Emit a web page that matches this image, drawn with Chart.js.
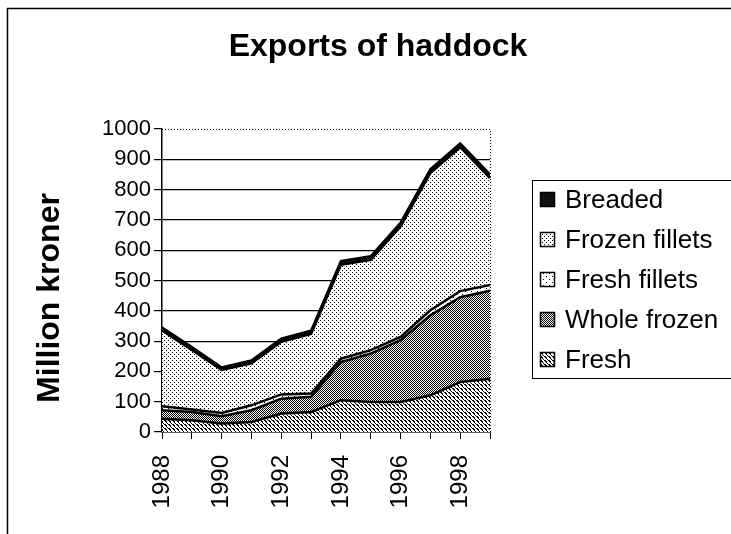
<!DOCTYPE html>
<html>
<head>
<meta charset="utf-8">
<title>Exports of haddock</title>
<script src="https://cdn.jsdelivr.net/npm/chart.js@4/dist/chart.umd.min.js"></script>
<style>
  body { margin: 0; background: #fff; }
  canvas { display: block; }
</style>
</head>
<body>
<canvas id="myChart" width="731" height="534"></canvas>
<script>
// Years on the x axis
const years = ['1988', '1989', '1990', '1991', '1992', '1993', '1994', '1995', '1996', '1997', '1998', '1999'];

// Million kroner per product (bottom to top)
const fresh = [44, 39, 28, 33, 61, 66, 105, 99, 99, 121, 165, 176];
const wholeFrozen = [28, 27, 24, 39, 49, 50, 126, 160, 204, 264, 280, 290];
const freshFillets = [13, 8, 11, 16, 14, 11, 11, 11, 11, 17, 20, 19];
const frozenFillets = [250, 197, 142, 139, 174, 197, 310, 298, 364, 453, 475, 353];
const breaded = [10, 9, 8, 9, 10, 10, 12, 12, 12, 12, 12, 12];

const yMin = 0;
const yMax = 1000;
const yStep = 100;

const chartTitle = 'Exports of haddock';
const yTitle = 'Million kroner';

const ctx = document.querySelector('#myChart');
const font = '"Liberation Sans", Arial, Helvetica, sans-serif';

// Small black/white patterns, like the old printed chart
function makePattern(size, pixels) {
  const c = document.createElement('canvas');
  c.width = size;
  c.height = size;
  const g = c.getContext('2d');
  g.fillStyle = '#fff';
  g.fillRect(0, 0, size, size);
  g.fillStyle = '#000';
  pixels.forEach(p => g.fillRect(p[0], p[1], 1, 1));
  return ctx.getContext('2d').createPattern(c, 'repeat');
}

const hatchPattern = makePattern(4, [[0, 0], [1, 1], [2, 2], [3, 3], [1, 0], [2, 1]]);
const checkPattern = makePattern(2, [[0, 0], [1, 1]]);
const sparsePattern = makePattern(6, [[0, 0], [3, 3]]);
const dotPattern = makePattern(4, [[0, 0], [2, 2]]);

// Frame, titles and legend drawn round the chart
const framePlugin = {
  id: 'frame',
  beforeDraw(chart) {
    const g = chart.ctx;
    g.save();
    g.fillStyle = '#fff';
    g.fillRect(0, 0, chart.width, chart.height);
    g.strokeStyle = '#000';
    g.lineWidth = 1.5;
    g.beginPath();
    g.moveTo(7.5, chart.height);
    g.lineTo(7.5, 8.5);
    g.lineTo(chart.width, 8.5);
    g.stroke();

    // title centred over the whole picture
    g.fillStyle = '#000';
    g.font = 'bold 32px ' + font;
    g.textAlign = 'center';
    g.textBaseline = 'middle';
    g.fillText(chartTitle, 378, 47);

    // y axis title, a little below the middle of the plot
    g.translate(50, 298);
    g.rotate(-Math.PI / 2);
    g.fillText(yTitle, 0, 0);
    g.restore();
  },
  afterDraw(chart) {
    const g = chart.ctx;
    const a = chart.chartArea;
    g.save();
    // dotted plot border, top and right
    g.strokeStyle = '#000';
    g.lineWidth = 1;
    g.setLineDash([1, 2]);
    g.beginPath();
    g.moveTo(a.left, a.top + 0.5);
    g.lineTo(a.right + 0.5, a.top + 0.5);
    g.lineTo(a.right + 0.5, a.bottom);
    g.stroke();
    g.setLineDash([]);

    // legend box
    g.lineWidth = 1;
    g.strokeRect(532.5, 180.5, 210, 198);
    const order = chart.data.datasets.slice().reverse();
    g.font = '26px ' + font;
    g.textBaseline = 'middle';
    order.forEach((ds, i) => {
      const y = 200 + i * 40;
      g.fillStyle = ds.backgroundColor;
      g.fillRect(540, y - 8, 15, 15);
      g.strokeStyle = '#000';
      g.lineWidth = 1.5;
      g.strokeRect(540.5, y - 7.5, 14, 14);
      g.fillStyle = '#000';
      g.fillText(ds.label, 565, y + 1);
    });
    g.restore();
  }
};

function areaSet(label, data, fill, pattern) {
  return {
    label: label,
    data: data,
    fill: fill,
    backgroundColor: pattern,
    borderColor: '#000',
    borderWidth: 2.5,
    pointRadius: 0,
    tension: 0
  };
}

new Chart(ctx, {
  type: 'line',
  data: {
    labels: years,
    datasets: [
      areaSet('Fresh', fresh, 'origin', hatchPattern),
      areaSet('Whole frozen', wholeFrozen, '-1', checkPattern),
      areaSet('Fresh fillets', freshFillets, '-1', sparsePattern),
      areaSet('Frozen fillets', frozenFillets, '-1', dotPattern),
      areaSet('Breaded', breaded, '-1', '#111')
    ]
  },
  options: {
    responsive: false,
    animation: false,
    devicePixelRatio: 1,
    layout: { padding: { left: 30, right: 241, top: 129, bottom: 0 } },
    plugins: {
      legend: { display: false },
      tooltip: { enabled: false },
      title: { display: false }
    },
    scales: {
      x: {
        stacked: true,
        offset: false,
        afterFit: scale => { scale.height = 102; },
        grid: { drawOnChartArea: false, drawTicks: true, tickLength: 7, color: '#000' },
        border: { color: '#000', width: 1.5 },
        ticks: {
          autoSkip: false,
          maxRotation: 90,
          minRotation: 90,
          color: '#000',
          padding: 16,
          font: { family: font, size: 24 },
          callback: function (value, index) {
            return index % 2 === 0 ? this.getLabelForValue(value) : '';
          }
        }
      },
      y: {
        stacked: true,
        min: yMin,
        max: yMax,
        afterFit: scale => { scale.width = 132; },
        grid: {
          color: c => (c.tick && c.tick.value === yMax ? 'rgba(0,0,0,0)' : '#000'),
          tickColor: '#000',
          lineWidth: 1.2,
          tickLength: 8
        },
        border: { color: '#000', width: 1.5 },
        ticks: {
          stepSize: yStep,
          color: '#000',
          padding: 3,
          font: { family: font, size: 22 },
          callback: value => String(value)
        },
        title: { display: false }
      }
    }
  },
  plugins: [framePlugin]
});
</script>
</body>
</html>
